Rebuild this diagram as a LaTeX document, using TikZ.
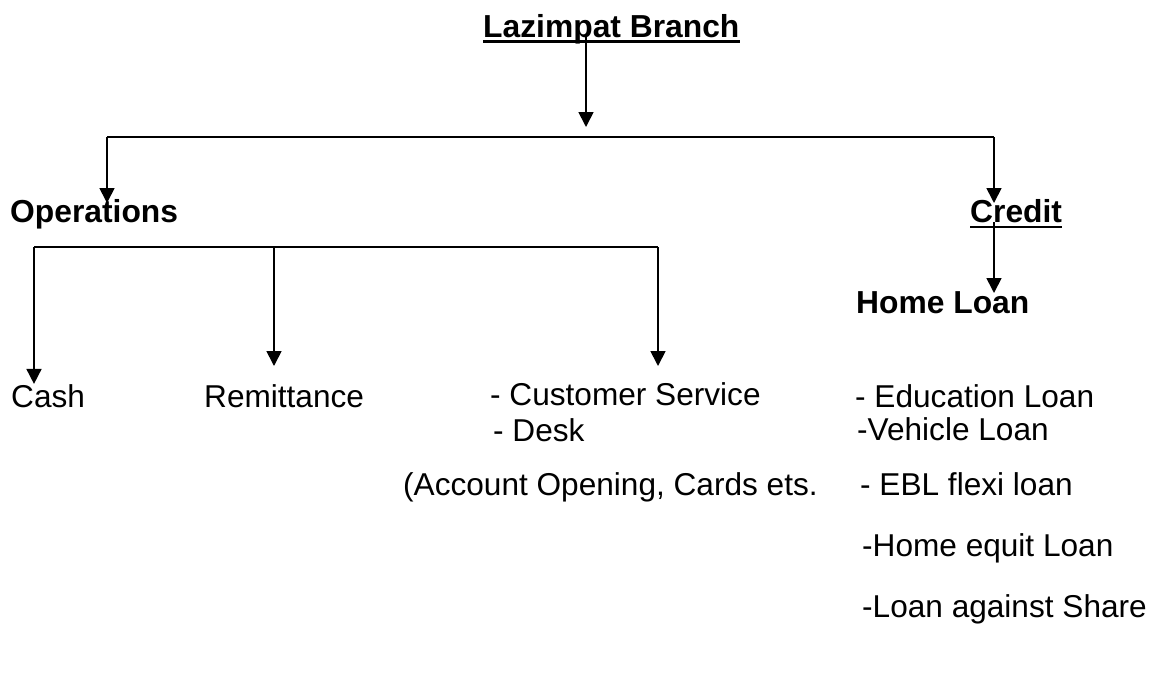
\documentclass[tikz,border=0pt]{standalone}
\usepackage{fontspec}
\setmainfont{Liberation Sans}
\usetikzlibrary{arrows.meta}

\begin{document}
\begin{tikzpicture}[
  x=1pt, y=-1pt,
  head/.style={anchor=base west, inner sep=0pt,
               font=\fontsize{31.8}{37}\selectfont\bfseries},
  item/.style={anchor=base west, inner sep=0pt,
               font=\fontsize{31.6}{37}\selectfont},
  link/.style={line width=1.7pt},
  uline/.style={line width=2.8pt},
  >={Triangle[width=15pt,length=15pt]}
]
  \useasboundingbox (0,0) rectangle (1162,673);

  % headings
  \node[head] (branch) at (483,37) {Lazimpat Branch};
  \node[head] (ops) at (10,222) {Operations};
  \node[head] (credit) at (970,222) {Credit};
  \node[head] (home) at (856,313) {Home Loan};

  \draw[uline] ([yshift=-4.5pt]branch.base west) -- ([yshift=-4.5pt]branch.base east);
  \draw[uline] ([yshift=-5pt]credit.base west) -- ([yshift=-5pt]credit.base east);

  % operations side
  \node[item] (cash) at (11,407) {Cash};
  \node[item] (remit) at (204,407) {Remittance};
  \node[item] (cust) at (490,405) {- Customer Service};
  \node[item] (desk) at (493,441) {- Desk};
  \node[item] (acct) at (403,495) {(Account Opening, Cards ets.};

  % credit side
  \node[item] (edu) at (855,407) {- Education Loan};
  \node[item] (vehicle) at (857,440) {-Vehicle Loan};
  \node[item] (flexi) at (860,495) {- EBL flexi loan};
  \node[item] (equity) at (862,556) {-Home equit Loan};
  \node[item] (share) at (862,617) {-Loan against Share};

  % branch split
  \coordinate (top-in) at (586,127);
  \coordinate (bus-w) at (107,137);
  \coordinate (bus-e) at (994,137);
  \coordinate (ops-in) at (107,203);
  \coordinate (credit-in) at (994,203);
  \coordinate (home-in) at (994,293);

  \draw[link,->] (branch.base -| top-in) -- (top-in);
  \draw[link] (bus-w) -- (bus-e);
  \draw[link,->] (bus-w) -- (ops-in);
  \draw[link,->] (bus-e) -- (credit-in);
  \draw[link,->] (credit.base -| home-in) -- (home-in);

  % operations split
  \coordinate (opsbus-w) at (34,247);
  \coordinate (opsbus-e) at (658,247);
  \coordinate (remit-in) at (274,366);
  \coordinate (cust-in) at (658,366);

  \draw[link] (opsbus-w) -- (opsbus-e);
  \draw[link,->] (opsbus-w) -- (opsbus-w |- cash.north);
  \draw[link,->] (opsbus-w -| remit-in) -- (remit-in);
  \draw[link,->] (opsbus-e) -- (cust-in);
\end{tikzpicture}
\end{document}
